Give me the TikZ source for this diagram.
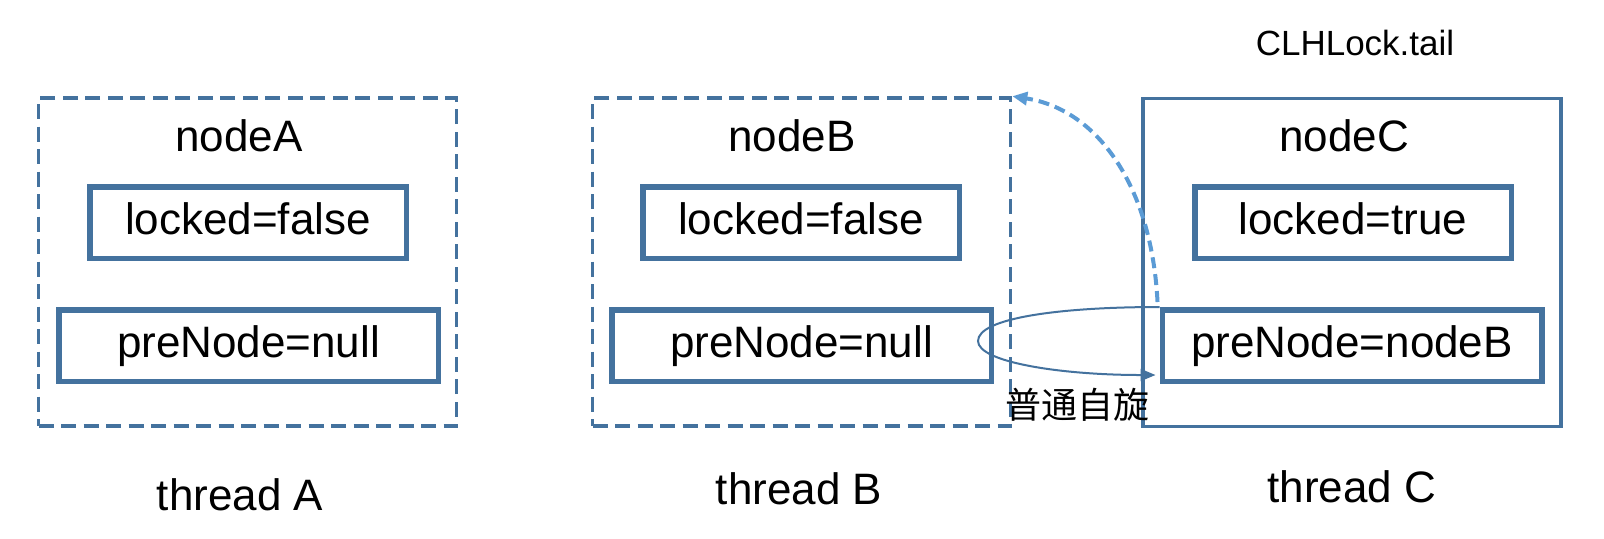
\documentclass[tikz,border=0pt]{standalone}
\usepackage{fontspec}
\setmainfont{Liberation Sans}
\newfontfamily\cjk{Noto Sans CJK SC}
\usetikzlibrary{arrows.meta,calc}
\definecolor{boxblue}{HTML}{44729E}
\definecolor{lightblue}{HTML}{5B9BD5}
\begin{document}
\begin{tikzpicture}[x=0.5pt,y=-0.5pt,
  outerbox/.style={draw=boxblue, line width=1.8pt, minimum width=209pt, minimum height=164pt, inner sep=0pt},
  dashedbox/.style={outerbox, dash pattern=on 7.5pt off 3.75pt},
  fieldbox/.style={draw=boxblue, line width=2.75pt, minimum height=35.75pt, inner sep=0pt,
    font=\fontsize{22}{26}\selectfont, text height=15pt, text depth=3.5pt},
  lockbox/.style={fieldbox, minimum width=158.25pt},
  prebox/.style={fieldbox, minimum width=189.75pt},
  titletext/.style={anchor=base, inner sep=0pt, font=\fontsize{22}{26}\selectfont},
  spin/.style={draw=boxblue, line width=1pt, -{Triangle[length=7.5pt,width=6pt]}},
  tailarrow/.style={draw=lightblue, line width=2pt, dash pattern=on 5.5pt off 3pt,
    -{Triangle[length=7.5pt,width=6.5pt]}}
]
\useasboundingbox (0,0) rectangle (1604,538);

% thread A
\node[dashedbox] (oA) at (247.5,262) {};
\node[titletext] (nA) at (239,151) {nodeA};
\node[lockbox] (lA) at (248,222.5) {locked=false};
\node[prebox] (pA) at (248.5,345.5) {preNode=null};
\node[titletext] (thA) at (240,510) {thread A};

% thread B
\node[dashedbox] (oB) at (801.5,262) {};
\node[titletext] (nB) at (792,151) {nodeB};
\node[lockbox] (lB) at (801,222.5) {locked=false};
\node[prebox] (pB) at (801.5,345.5) {preNode=null};
\node[titletext] (thB) at (799,504) {thread B};

% thread C
\node[outerbox] (oC) at (1352,262.5) {};
\node[titletext] (nC) at (1344,151) {nodeC};
\node[lockbox] (lC) at (1353,222.5) {locked=true};
\node[prebox] (pC) at (1352,345.5) {preNode=nodeB};
\node[titletext] (thC) at (1352,502) {thread C};

\node[anchor=base, inner sep=0pt, font=\fontsize{17.5}{21}\selectfont] (tail) at (1355,55) {CLHLock.tail};
\node[inner sep=0pt, font=\cjk\fontsize{18}{22}\selectfont] (spinlbl) at (1077,405) {普通自旋};

% spin loop
\coordinate (spinend) at ($(pC.west)+(-4,29.5)$);
\draw[spin] (pC.north west) .. controls (1060,307) and (978,318) .. (978,341)
  .. controls (978,362) and (1060,375) .. (spinend);

% tail arrow
\coordinate (tailstart) at ($(pC.north west)+(-2,-5)$);
\draw[tailarrow] (tailstart) .. controls (1152,190) and (1100,110) .. (oB.north east);
\end{tikzpicture}
\end{document}
